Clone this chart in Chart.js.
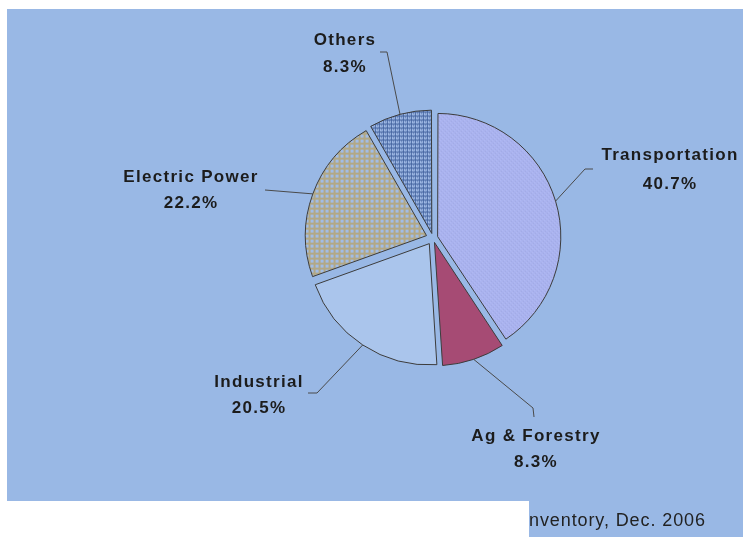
<!DOCTYPE html>
<html>
<head>
<meta charset="utf-8">
<script src="https://cdn.jsdelivr.net/npm/chart.js@4/dist/chart.umd.min.js"></script>
<style>
  html, body { margin: 0; padding: 0; background: #ffffff; }
  #wrap { width: 743px; height: 537px; position: relative; }
  canvas { display: block; }
</style>
</head>
<body>
<div id="wrap"><canvas id="c" width="743" height="537"></canvas></div>
<script>
// ---- Data ----
const categories = ['Transportation', 'Ag & Forestry', 'Industrial', 'Electric Power', 'Others'];
const shares = [40.7, 8.3, 20.5, 22.2, 8.3];
const shareLabels = ['40.7%', '8.3%', '20.5%', '22.2%', '8.3%'];
const sourceNote = 'nventory, Dec. 2006';

// ---- Fill patterns ----
function makePattern(size, draw) {
  const c = document.createElement('canvas');
  c.width = size; c.height = size;
  const g = c.getContext('2d');
  draw(g, size);
  return g.createPattern(c, 'repeat');
}

const transPattern = makePattern(4, (g) => {
  g.fillStyle = '#aab3f0'; g.fillRect(0, 0, 4, 4);
  g.fillStyle = '#9aa2dc'; g.fillRect(0, 0, 1, 1); g.fillRect(2, 2, 1, 1);
  g.fillStyle = '#b8c0f6'; g.fillRect(1, 3, 1, 1); g.fillRect(3, 1, 1, 1);
});
const elecPattern = makePattern(5, (g) => {
  g.fillStyle = '#a2bde6'; g.fillRect(0, 0, 5, 5);
  g.fillStyle = '#b2a886'; g.fillRect(0, 0, 5, 2); g.fillRect(0, 0, 2, 5);
});
const othersPattern = makePattern(4, (g) => {
  g.fillStyle = '#a6c0ea'; g.fillRect(0, 0, 4, 4);
  g.fillStyle = '#42629e'; g.fillRect(0, 0, 4, 1); g.fillRect(0, 0, 1, 4);
  g.fillStyle = '#6a86bc'; g.fillRect(2, 2, 1, 1); g.fillRect(2, 1, 1, 1);
});
const fills = [transPattern, '#a64b74', '#aac5ec', elecPattern, othersPattern];

// ---- Label placement ----
const sliceShift = 7; // visual explode distance in px
const labelLayout = [
  { path: [[585, 169], [593, 169]], x: 670, y1: 155, y2: 184 },
  { path: [[533, 408], [534, 417]], x: 536, y1: 436, y2: 462 },
  { path: [[317, 393], [308, 393]], x: 259, y1: 382, y2: 408 },
  { path: [[265, 190]],             x: 191, y1: 177, y2: 203 },
  { path: [[387, 52], [380, 52]],   x: 345, y1: 40,  y2: 67 }
];

// Chart.js moves an arc by offset/4 * (2 - sin(circumference)); compensate for a uniform shift
function arcOffset(ctx) {
  const total = shares.reduce((a, b) => a + b, 0);
  const circ = ctx.dataset.data[ctx.dataIndex] / total * Math.PI * 2;
  const fix = 1 - Math.sin(Math.min(Math.PI, circ));
  return 4 * sliceShift / (1 + fix);
}

const backgroundPlugin = {
  id: 'bg',
  beforeDraw(chart) {
    const ctx = chart.ctx;
    ctx.save();
    ctx.fillStyle = '#ffffff';
    ctx.fillRect(0, 0, chart.width, chart.height);
    ctx.fillStyle = '#99b8e5';
    ctx.fillRect(7, 9, 736, 492);
    ctx.fillRect(529, 501, 214, 36);
    ctx.restore();
  }
};

const labelPlugin = {
  id: 'pieLabels',
  afterDraw(chart) {
    const ctx = chart.ctx;
    const meta = chart.getDatasetMeta(0);
    ctx.save();
    meta.data.forEach((arc, i) => {
      const p = arc.getProps(['x', 'y', 'startAngle', 'endAngle', 'outerRadius'], true);
      const mid = (p.startAngle + p.endAngle) / 2;
      const r = p.outerRadius + sliceShift;
      const ax = p.x + Math.cos(mid) * r;
      const ay = p.y + Math.sin(mid) * r;
      const L = labelLayout[i];
      ctx.strokeStyle = '#4a4a4a';
      ctx.lineWidth = 1;
      ctx.beginPath();
      ctx.moveTo(ax, ay);
      L.path.forEach(pt => ctx.lineTo(pt[0], pt[1]));
      ctx.stroke();
      ctx.fillStyle = '#1c1c1c';
      ctx.font = 'bold 17px "Liberation Sans", Arial, sans-serif';
      ctx.letterSpacing = '1.3px';
      ctx.textAlign = 'center';
      ctx.textBaseline = 'middle';
      ctx.fillText(categories[i], L.x, L.y1);
      ctx.fillText(shareLabels[i], L.x, L.y2);
    });
    ctx.font = '18px "Liberation Sans", Arial, sans-serif';
    ctx.letterSpacing = '0.9px';
    ctx.textAlign = 'left';
    ctx.textBaseline = 'middle';
    ctx.fillStyle = '#222222';
    ctx.fillText(sourceNote, 529, 521);
    ctx.restore();
  }
};

new Chart(document.getElementById('c'), {
  type: 'pie',
  data: {
    labels: categories,
    datasets: [{
      data: shares,
      backgroundColor: fills,
      borderColor: '#3c3c3c',
      borderWidth: 1,
      offset: arcOffset,
      hoverOffset: arcOffset
    }]
  },
  options: {
    responsive: false,
    animation: false,
    radius: 121,
    layout: { padding: { left: 303, right: 180, top: 108, bottom: 169 } },
    plugins: {
      legend: { display: false },
      tooltip: { enabled: false }
    },
    events: []
  },
  plugins: [backgroundPlugin, labelPlugin]
});
</script>
</body>
</html>
